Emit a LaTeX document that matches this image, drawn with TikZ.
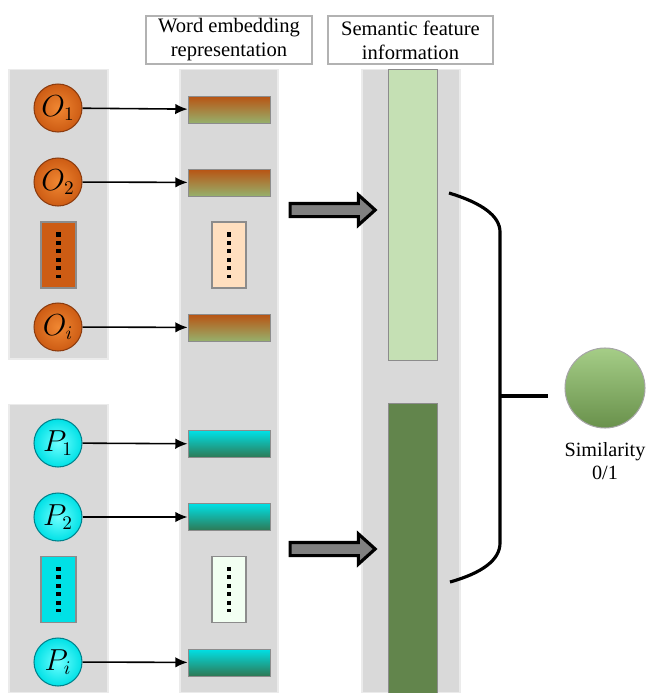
\documentclass[tikz,border=0pt]{standalone}
\usepackage{fontspec}
\setmainfont{Liberation Serif}
\usepackage{tikz}
\usetikzlibrary{shapes.geometric,shapes.arrows,arrows,arrows.meta,positioning,shadings}

\tikzset{
  panel/.style={draw=black!8,fill=black!15,line width=0.6pt,inner sep=0pt},
  header/.style={draw=black!30,fill=white,line width=0.6pt,minimum width=3.32cm,minimum height=0.96cm,
    align=center,inner sep=1pt,font=\rmfamily\fontsize{11.7}{13.6}\selectfont},
  ocirc/.style={circle,minimum size=0.96cm,inner sep=0pt,draw=corim,line width=0.6pt,
    inner color=coin,outer color=corange,font=\fontsize{16}{18}\selectfont},
  pcirc/.style={ocirc,draw=cprim,inner color=ccyin,outer color=ccyan},
  obar/.style={draw=black!45,line width=0.5pt,minimum width=1.64cm,minimum height=0.54cm,inner sep=0pt,
    top color=corange!90!black,bottom color=cogreen},
  pbar/.style={obar,top color=ccyan,bottom color=cpgreen},
  dotsbox/.style={draw=black!45,line width=0.6pt,minimum width=0.7cm,minimum height=1.32cm,inner sep=0pt},
  dotline/.style={line width=2.3pt,dash pattern=on 2.3pt off 2.5pt,shorten <=0.22cm,shorten >=0.22cm},
  feat/.style={draw=black!45,line width=0.5pt,minimum width=0.98cm,inner sep=0pt},
  bigarrow/.style={single arrow,draw=black,line width=1.8pt,fill=black!50,inner sep=0.1cm,
    minimum height=1.7cm,minimum width=0.6cm,single arrow head extend=0.17cm,single arrow tip angle=84},
  link/.style={-{Latex[length=7pt,width=6pt]},line width=0.9pt},
  brace/.style={line width=1.8pt}
}

\begin{document}
\begin{tikzpicture}[x=0.02cm,y=-0.02cm]
%
\useasboundingbox (0,0) rectangle (647,693);
%
\definecolor{corange}{RGB}{205,92,20}
\definecolor{coin}{RGB}{240,135,50}
\definecolor{corim}{RGB}{140,60,15}
\definecolor{cogreen}{RGB}{150,176,108}
\definecolor{ccyan}{RGB}{0,225,230}
\definecolor{ccyin}{RGB}{110,255,255}
\definecolor{cprim}{RGB}{0,130,140}
\definecolor{cpgreen}{RGB}{46,120,84}
\definecolor{clgreen}{RGB}{197,224,180}
\definecolor{cdgreen}{RGB}{98,133,76}
\definecolor{csimt}{RGB}{165,205,135}
\definecolor{csimb}{RGB}{105,145,75}
%
% panels
\node[panel,minimum width=1.98cm,minimum height=5.8cm] (po) at (58.5,214) {};
\node[panel,minimum width=1.98cm,minimum height=5.78cm] (pp) at (58.5,548.5) {};
\node[panel,minimum width=1.96cm,minimum height=12.48cm] (pe) at (229,381) {};
\node[panel,minimum width=1.96cm,minimum height=12.48cm] (ps) at (411,381) {};
%
% headers
\node[header] (hw) at (229,40) {Word embedding\\representation};
\node[header,minimum width=3.3cm] (hs) at (410.5,40) {Semantic feature\\information};
%
% feature columns
\node[feat,fill=clgreen,minimum height=5.82cm] (fo) at (412.5,214.5) {};
\node[feat,fill=cdgreen,minimum height=5.8cm] (fp) at (412.5,548) {};
%
% words O
\node[ocirc] (o1) at (58,108) {$O_1$};
\node[ocirc] (o2) at (58,182) {$O_2$};
\node[dotsbox,fill=corange] (od) at (58.5,255) {};
\node[ocirc] (oi) at (58,327) {$O_i$};
%
% words P
\node[pcirc] (p1) at (58,443) {$P_1$};
\node[pcirc] (p2) at (58,517) {$P_2$};
\node[dotsbox,fill=ccyan] (pd) at (58.5,589.5) {};
\node[pcirc] (pi) at (58,662) {$P_i$};
%
% embeddings
\node[obar] (eo1) at (229,109.5) {};
\node[obar] (eo2) at (229,182.5) {};
\node[dotsbox,fill=orange!25,minimum width=0.68cm] (eod) at (229,255) {};
\node[obar] (eoi) at (229,327.5) {};
\node[pbar] (ep1) at (229,444) {};
\node[pbar] (ep2) at (229,517) {};
\node[dotsbox,fill=green!5,minimum width=0.68cm] (epd) at (229,589.5) {};
\node[pbar] (epi) at (229,662.5) {};
%
\foreach \d in {od,pd,eod,epd}
  \draw[dotline] (\d.north) -- (\d.south);
%
\foreach \a/\b in {o1/eo1,o2/eo2,oi/eoi,p1/ep1,p2/ep2,pi/epi}
  \draw[link] (\a) -- (\b);
%
% block arrows
\node[bigarrow] (ao) at (329,210) {};
\node[bigarrow] (ap) at (329,549) {};
%
% similarity
\node[circle,minimum size=1.6cm,inner sep=0pt,top color=csimt,bottom color=csimb,draw=black!35,line width=0.6pt] (sim) at (605,388) {};
\node[align=center,font=\rmfamily\fontsize{11.5}{13}\selectfont,below=0.16cm of sim] (simt) {Similarity\\0/1};
%
% brace
\coordinate (b1) at (449,193);
\coordinate (b2) at (500,232);
\coordinate (b3) at (500,543);
\coordinate (b4) at (450,582);
\coordinate (bm) at (500,396);
\draw[brace] (b1) .. controls (482,203) and (500,216) .. (b2) -- (b3)
  .. controls (500,560) and (482,573) .. (b4);
\draw[brace] (bm) -- ([xshift=-0.32cm]sim.west |- bm);
%
\end{tikzpicture}
\end{document}
